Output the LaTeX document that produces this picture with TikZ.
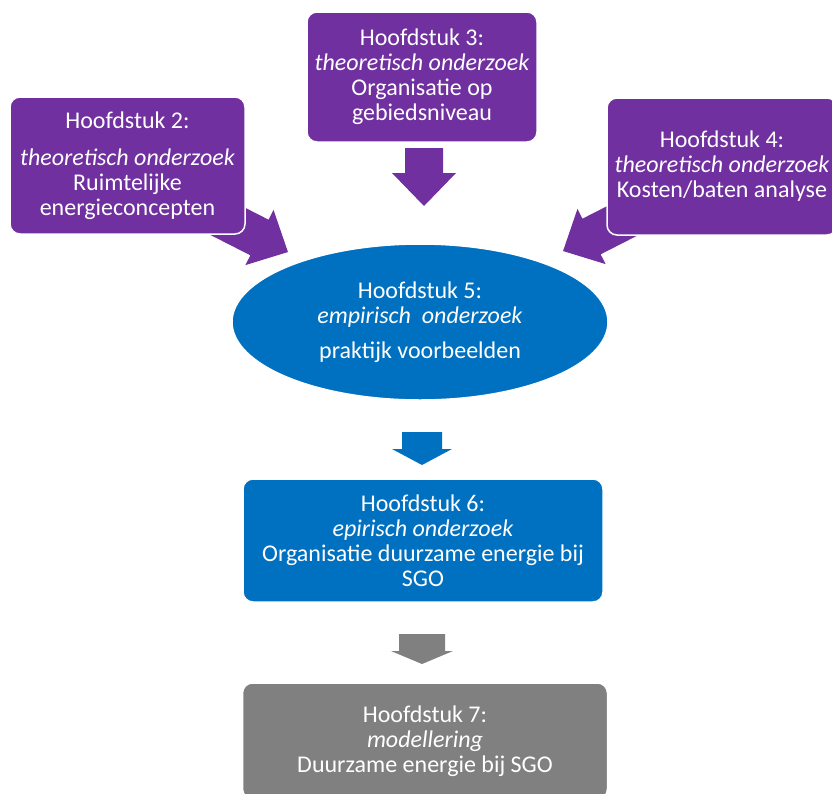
\documentclass[tikz,border=0pt]{standalone}
\usepackage{fontspec}
\setmainfont{Carlito}
\usetikzlibrary{shapes.geometric}

\definecolor{chpurple}{HTML}{7030A0}
\definecolor{chblue}{HTML}{0070C0}
\definecolor{chgray}{HTML}{808080}

\tikzset{
  chapter/.style={rounded corners=10pt, draw=white, line width=1.5pt,
    text=white, align=center, inner sep=0pt,
    font=\fontsize{24}{25}\selectfont},
  theory/.style={chapter, fill=chpurple},
  empirical/.style={chapter, fill=chblue},
  modelling/.style={chapter, fill=chgray},
  fieldwork/.style={ellipse, draw=white, line width=1.5pt, fill=chblue,
    text=white, align=center, inner sep=0pt,
    font=\fontsize{24}{25}\selectfont},
  % block arrow: shaft half width / head half width / shaft length / head length
  pics/barrow/.style args={#1/#2/#3/#4}{code={
    \fill (0,-#1) -- (#3,-#1) -- (#3,-#2) -- (#3+#4,0) -- (#3,#2) -- (#3,#1)
      -- (0,#1) -- cycle;
  }}
}

\begin{document}
\begin{tikzpicture}[x=1pt,y=-1pt]
\useasboundingbox (0,0) rectangle (832,793);
\clip (0,0) rectangle (832,793);

% arrow tails (hidden behind the boxes where they start)
\coordinate (a2) at (214.9,214.8);
\coordinate (a3) at (424,148);
\coordinate (a4) at (636.1,213.8);
\coordinate (a5) at (422,432);
\coordinate (a6) at (422,634);

\pic[fill=chpurple, rotate=-27]  at (a2) {barrow=20/31/50/32};
\pic[fill=chpurple, rotate=-90]  at (a3) {barrow=19/32/25/33};
\pic[fill=chpurple, rotate=-153] at (a4) {barrow=20/31/50/32};
\pic[fill=chblue,   rotate=-90]  at (a5) {barrow=20/30/17/16};
\pic[fill=chgray,   rotate=-90]  at (a6) {barrow=23/31/17/13};

% chapter boxes
\node[theory, minimum width=235pt, minimum height=137pt] (ch2) at (127.5,165.5)
  {Hoofdstuk 2:\\[12pt]\textit{theoretisch onderzoek}\\Ruimtelijke\\energieconcepten};
\node[theory, minimum width=230pt, minimum height=130pt] (ch3) at (422,77)
  {Hoofdstuk 3:\\\textit{theoretisch onderzoek}\\Organisatie op\\gebiedsniveau};
\node[theory, minimum width=230pt, minimum height=137pt] (ch4) at (722,166.5)
  {Hoofdstuk 4:\\\textit{theoretisch onderzoek}\\Kosten/baten analyse};
\node[fieldwork, minimum width=376pt, minimum height=156pt] (ch5) at (420,322)
  {Hoofdstuk 5:\\\textit{empirisch\ \ onderzoek}\\[10pt]praktijk voorbeelden};
\node[empirical, minimum width=360pt, minimum height=123pt] (ch6) at (423,540.5)
  {Hoofdstuk 6:\\\textit{epirisch onderzoek}\\Organisatie duurzame energie bij\\SGO};
\node[modelling, minimum width=365pt, minimum height=116pt] (ch7) at (425,741)
  {Hoofdstuk 7:\\\textit{modellering}\\Duurzame energie bij SGO};
\end{tikzpicture}
\end{document}
